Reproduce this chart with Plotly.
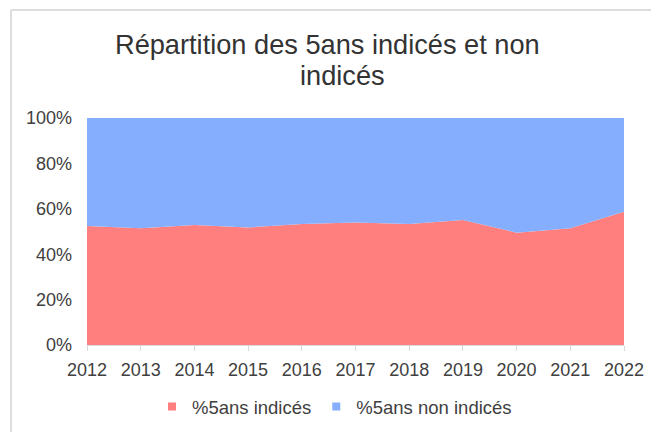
import plotly.graph_objects as go

years = [2012, 2013, 2014, 2015, 2016, 2017, 2018, 2019, 2020, 2021, 2022]
pct_indices = [52.4, 51.4, 52.9, 51.8, 53.3, 54.0, 53.3, 55.1, 49.5, 51.4, 58.7]
pct_non_indices = [47.6, 48.6, 47.1, 48.2, 46.7, 46.0, 46.7, 44.9, 50.5, 48.6, 41.3]
y_ticks = [0, 20, 40, 60, 80, 100]
y_tick_labels = ["0%", "20%", "40%", "60%", "80%", "100%"]
title_lines = ["Répartition des 5ans indicés et non", "indicés"]
series_names = ["%5ans indicés", "%5ans non indicés"]
colors = ["#FF7F7F", "#85AEFF"]

fig = go.Figure()
for vals, name, col in zip([pct_indices, pct_non_indices], series_names, colors):
    fig.add_trace(go.Scatter(x=years, y=vals, name=name, mode="lines", stackgroup="one",
                             line=dict(width=0, color=col), fillcolor=col, showlegend=False))
for name, col in zip(series_names, colors):
    fig.add_trace(go.Scatter(x=[None], y=[None], name=name, mode="markers",
                             marker=dict(symbol="square", size=8, color=col)))

fig.update_layout(
    width=651, height=424,
    margin=dict(l=79, r=35, t=110, b=87, autoexpand=False),
    paper_bgcolor="white", plot_bgcolor="white",
    font=dict(family="Liberation Sans, Arial, sans-serif", color="#404040", size=18),
    showlegend=True,
    legend=dict(orientation="h", x=0.121, xanchor="left", y=-0.273, yanchor="middle",
                font=dict(size=18.5, color="#404040"), traceorder="normal"),
    xaxis=dict(range=[2012, 2022], tickvals=years, ticktext=[str(y) for y in years],
               showgrid=False, zeroline=False, showline=True, linecolor="#D9D9D9",
               ticks="outside", ticklen=5, tickcolor="#D9D9D9", ticklabelstandoff=3),
    yaxis=dict(range=[0, 100], tickvals=y_ticks, ticktext=y_tick_labels,
               showgrid=False, zeroline=False, showline=False, ticks="",
               ticklabelstandoff=14),
)
# title lines (screen y 45 and 75; figure offset 8px by page margin)
fig.add_annotation(text=title_lines[0], xref="paper", yref="paper",
                   x=(327 - 8 - 79) / 537, y=(337 - 37) / 227, showarrow=False,
                   xanchor="center", yanchor="middle", font=dict(size=27.2, color="#333333"))
fig.add_annotation(text=title_lines[1], xref="paper", yref="paper",
                   x=(342 - 8 - 79) / 537, y=(337 - 67) / 227, showarrow=False,
                   xanchor="center", yanchor="middle", font=dict(size=27.2, color="#333333"))
fig.add_shape(type="line", xref="paper", yref="paper", x0=-0.1415, x1=-0.1415, y0=-0.39, y1=1.476,
              line=dict(color="#DDDDDD", width=2), layer="below")
fig.add_shape(type="line", xref="paper", yref="paper", x0=-0.1415, x1=1.07, y0=1.476, y1=1.476,
              line=dict(color="#DDDDDD", width=2), layer="below")

fig.write_html("out.html")
